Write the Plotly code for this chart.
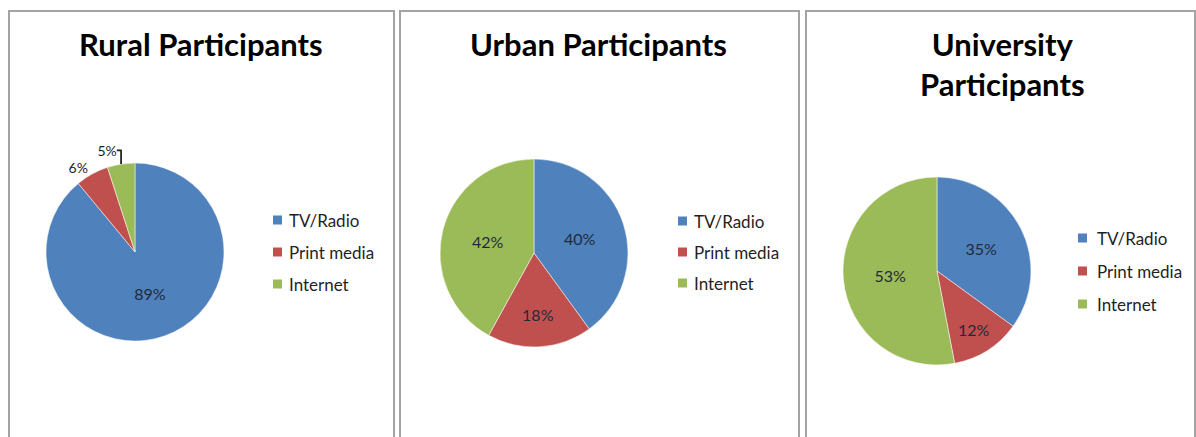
import plotly.graph_objects as go

# ---- data ----
categories = ["TV/Radio", "Print media", "Internet"]
rural_values = [89, 6, 5]
urban_values = [40, 18, 42]
university_values = [35, 12, 53]
panel_titles = ["Rural Participants", "Urban Participants", "University<br>Participants"]

# ---- style / layout ----
W, H = 1196, 437
colors = ["#4f81bd", "#c0504d", "#9bbb59"]
FONT = "Lato"
pie_centers = [(135, 252), (534, 253), (937, 271)]
pie_radius = [89, 94, 94]
text_pos = [["inside", "outside", "outside"], ["inside"] * 3, ["inside"] * 3]
panels = [(9, 11, 394, 445), (400, 11, 799, 445), (806, 11, 1195, 445)]
title_pos = [(201, 44), (598, 44), (1002, 64)]
legend_pos = [(273, 287, [220, 252, 284]), (678, 692, [221, 252, 283]), (1078, 1095, [238, 271, 304])]

def px_x(x):
    return x / W

def px_y(y):
    return 1 - y / H

fig = go.Figure()
for vals, (cx, cy), r, tp in zip([rural_values, urban_values, university_values],
                                  pie_centers, pie_radius, text_pos):
    fig.add_trace(go.Pie(
        labels=categories,
        values=vals,
        sort=False,
        direction="clockwise",
        rotation=0,
        marker=dict(colors=colors, line=dict(color="#ffffff", width=0.5)),
        texttemplate="%{value}%",
        textposition=tp,
        insidetextorientation="horizontal",
        textfont=dict(family=FONT, size=16, color="#1f2a3a"),
        outsidetextfont=dict(family=FONT, size=14, color="#1f1f1f"),
        showlegend=False,
        domain=dict(x=[px_x(cx - r), px_x(cx + r)], y=[px_y(cy + r), px_y(cy - r)]),
        hoverinfo="label+percent",
    ))

shapes = []
annotations = []
for (x0, y0, x1, y1) in panels:
    shapes.append(dict(type="rect", xref="paper", yref="paper",
                       x0=px_x(x0), x1=px_x(x1), y0=px_y(y1), y1=px_y(y0),
                       line=dict(color="#a3a3a3", width=2), fillcolor="rgba(0,0,0,0)"))
for t, (tx, ty) in zip(panel_titles, title_pos):
    annotations.append(dict(text="<b>" + t + "</b>", x=px_x(tx), y=px_y(ty), xref="paper", yref="paper",
                            showarrow=False, xanchor="center", yanchor="middle",
                            font=dict(family=FONT, size=31, color="#000000")))
for (sx, tx, ys) in legend_pos:
    for lab, col, y in zip(categories, colors, ys):
        shapes.append(dict(type="rect", xref="paper", yref="paper",
                           x0=px_x(sx), x1=px_x(sx + 9), y0=px_y(y + 4.5), y1=px_y(y - 4.5),
                           line=dict(width=0), fillcolor=col))
        annotations.append(dict(text=lab, x=px_x(tx), y=px_y(y), xref="paper", yref="paper",
                                showarrow=False, xanchor="left", yanchor="middle",
                                font=dict(family=FONT, size=17, color="#1f1f1f")))

fig.update_layout(
    width=W, height=H,
    margin=dict(l=0, r=0, t=0, b=0),
    paper_bgcolor="#ffffff",
    plot_bgcolor="#ffffff",
    shapes=shapes,
    annotations=annotations,
)

fig.write_html("out.html", config={"displayModeBar": False},
               post_script="document.body.style.margin='0';document.body.style.padding='0';")
